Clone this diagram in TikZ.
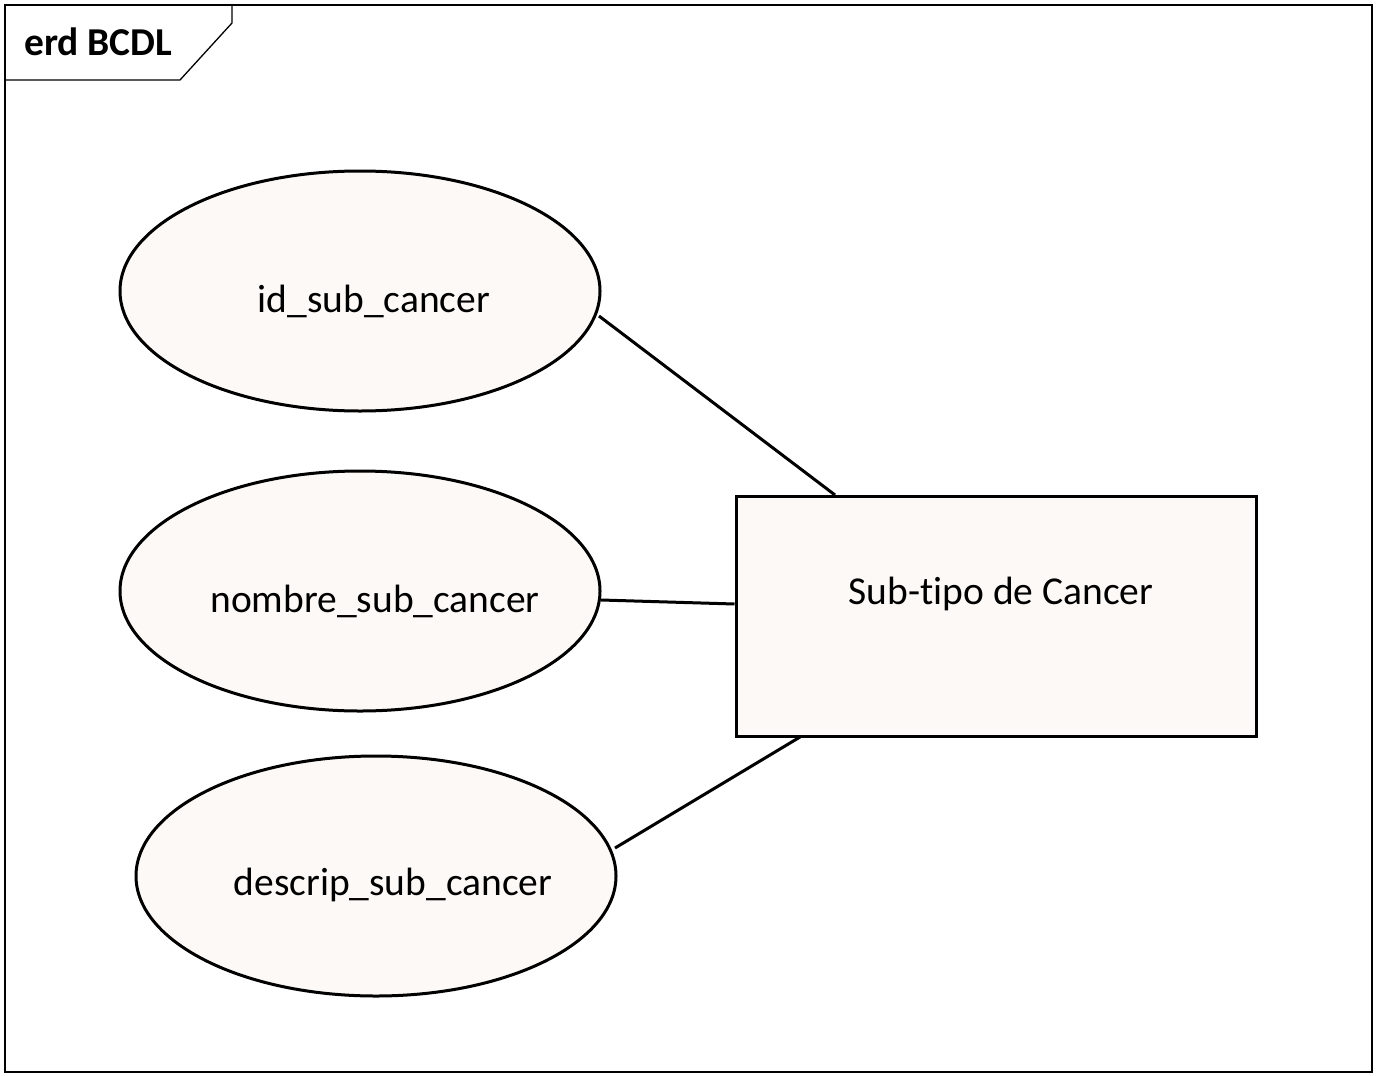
\documentclass[tikz,border=0pt]{standalone}
\usepackage{fontspec}
\setmainfont[Ligatures=NoCommon]{Carlito}
\usetikzlibrary{shapes.geometric}
\definecolor{shapefill}{HTML}{FDF9F6}
\begin{document}
\begin{tikzpicture}[x=1pt,y=-1pt,
  attr/.style={draw=black,line width=3pt,fill=shapefill,ellipse,minimum width=480pt,minimum height=240pt,inner sep=0pt},
  ent/.style={draw=black,line width=3pt,fill=shapefill,rectangle,minimum width=520pt,minimum height=240pt,inner sep=0pt},
  lbl/.style={font=\fontsize{39.5}{46}\selectfont,inner sep=0pt},
  conn/.style={line width=3pt}]
\useasboundingbox (0,0) rectangle (1376,1076);
\fill[white] (0,0) rectangle (1376,1076);
\draw[line width=1.3pt] (5,5) rectangle (1372,1072);
\draw[line width=1.3pt] (232,5) -- (232,23) -- (180,80) -- (5,80);
\node[font=\fontsize{39.5}{46}\selectfont\bfseries,anchor=west,inner sep=0pt] (title) at (24,42) {erd BCDL};
\node[attr] (a1) at (360,291) {};
\node[attr] (a2) at (360,591) {};
\node[attr] (a3) at (376,876) {};
\node[ent] (e) at (996,616) {};
\node[lbl] (t1) at (374,301) {id\_sub\_cancer};
\node[lbl] (t2) at (375,601) {nombre\_sub\_cancer};
\node[lbl] (t3) at (393,885) {descrip\_sub\_cancer};
\node[lbl] (te) at (1001,594) {Sub-tipo de Cancer};
\coordinate (c1) at (599,316);
\coordinate (c2) at (601,600);
\coordinate (c3) at (615,848);
\draw[conn] (c1) -- (835,495) coordinate (d1);
\draw[conn] (c2) -- (e.west |- 0,604);
\draw[conn] (c3) -- (800,737);
\end{tikzpicture}
\end{document}
